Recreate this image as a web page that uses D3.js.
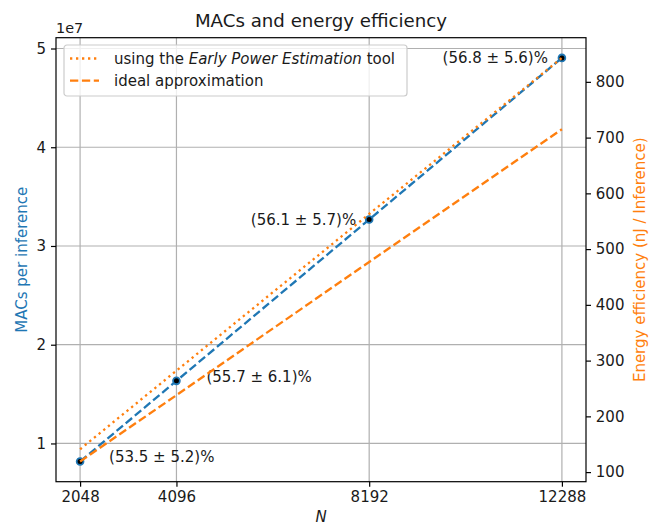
<!DOCTYPE html>
<html>
<head>
<meta charset="utf-8">
<script src="https://cdn.jsdelivr.net/npm/d3@7"></script>
<style>
  body { margin: 0; background: #fff; }
  svg { font-family: "DejaVu Sans", sans-serif; }
</style>
</head>
<body>
<script>
// data
var nValues = [2048, 4096, 8192, 12288];
var macsPerInference = [8.17e6, 1.634e7, 3.268e7, 4.905e7];
var energyEPE = [141, 282, 563, 843];
var energyIdeal = [119, 238, 477, 715];
var percentLabels = ["(53.5 \u00b1 5.2)%", "(55.7 \u00b1 6.1)%", "(56.1 \u00b1 5.7)%", "(56.8 \u00b1 5.6)%"];
var macTicks = [1, 2, 3, 4, 5];

// layout
var W = 655, H = 527;
var margin = {top: 37.7, right: 69, bottom: 45.3, left: 56};
var width = W - margin.left - margin.right,
    height = H - margin.top - margin.bottom;

var blue = "#1f77b4", orange = "#ff7f0e";
var tickFont = "15px";
var dashed = "8.3,3.6", dotted = "2.3,3.7";

function padded(lo, hi) {
  var d = (hi - lo) * 0.05;
  return [lo - d, hi + d];
}

var x = d3.scaleLinear().domain(padded(d3.min(nValues), d3.max(nValues))).range([0, width]);
var yL = d3.scaleLinear()
  .domain(padded(d3.min(macsPerInference) / 1e7, d3.max(macsPerInference) / 1e7))
  .range([height, 0]);
var allEnergy = energyEPE.concat(energyIdeal);
var yR = d3.scaleLinear().domain(padded(d3.min(allEnergy), d3.max(allEnergy))).range([height, 0]);

var svg = d3.select("body").append("svg")
    .attr("width", W)
    .attr("height", H);

var g = svg.append("g")
    .attr("transform", "translate(" + margin.left + "," + margin.top + ")");

// grid
g.append("g").selectAll("line").data(nValues).enter().append("line")
  .attr("x1", function(d) { return x(d); })
  .attr("x2", function(d) { return x(d); })
  .attr("y1", 0).attr("y2", height)
  .attr("stroke", "#b0b0b0").attr("stroke-width", 1.2);
g.append("g").selectAll("line").data(macTicks).enter().append("line")
  .attr("x1", 0).attr("x2", width)
  .attr("y1", function(d) { return yL(d); })
  .attr("y2", function(d) { return yL(d); })
  .attr("stroke", "#b0b0b0").attr("stroke-width", 1.2);

// axes
function styleAxis(sel) {
  sel.select(".domain").remove();
  sel.selectAll(".tick line").attr("stroke", "#000").attr("stroke-width", 1.2);
  sel.selectAll(".tick text").attr("fill", "#1a1a1a").style("font-size", tickFont)
    .style("font-family", "DejaVu Sans");
}

g.append("g")
  .attr("transform", "translate(0," + height + ")")
  .call(d3.axisBottom(x).tickValues(nValues).tickFormat(d3.format("d")).tickSize(5).tickPadding(4.5))
  .call(styleAxis);

g.append("g")
  .call(d3.axisLeft(yL).tickValues(macTicks).tickFormat(d3.format("d")).tickSize(5).tickPadding(5))
  .call(styleAxis);

g.append("g")
  .attr("transform", "translate(" + width + ",0)")
  .call(d3.axisRight(yR).ticks(8).tickSize(5).tickPadding(4.8))
  .call(styleAxis);

// frame
g.append("rect")
  .attr("width", width).attr("height", height)
  .attr("fill", "none").attr("stroke", "#000").attr("stroke-width", 1.2);

// MACs line
var macLine = d3.line()
  .x(function(d, i) { return x(nValues[i]); })
  .y(function(d) { return yL(d / 1e7); });

g.append("path")
  .datum(macsPerInference)
  .attr("d", macLine)
  .attr("fill", "none").attr("stroke", blue).attr("stroke-width", 2.3)
  .attr("stroke-dasharray", dashed);

g.selectAll("circle.mac").data(macsPerInference).enter().append("circle")
  .attr("class", "mac")
  .attr("cx", function(d, i) { return x(nValues[i]); })
  .attr("cy", function(d) { return yL(d / 1e7); })
  .attr("r", 3.4)
  .attr("fill", "#000").attr("stroke", blue).attr("stroke-width", 1.8);

// percentage labels
var labelOffsets = [[29, -5, "start"], [30, -4, "start"], [-13, 0, "end"], [-14, 0, "end"]];
g.selectAll("text.pct").data(percentLabels).enter().append("text")
  .attr("class", "pct")
  .attr("x", function(d, i) { return x(nValues[i]) + labelOffsets[i][0]; })
  .attr("y", function(d, i) { return yL(macsPerInference[i] / 1e7) + labelOffsets[i][1]; })
  .attr("dy", "0.36em")
  .attr("text-anchor", function(d, i) { return labelOffsets[i][2]; })
  .style("font-size", tickFont).attr("fill", "#1a1a1a")
  .text(function(d) { return d; });

// energy lines
var energyLine = d3.line()
  .x(function(d, i) { return x(nValues[i]); })
  .y(function(d) { return yR(d); });

g.append("path")
  .datum(energyEPE)
  .attr("d", energyLine)
  .attr("fill", "none").attr("stroke", orange).attr("stroke-width", 2.3)
  .attr("stroke-dasharray", dotted);

g.append("path")
  .datum(energyIdeal)
  .attr("d", energyLine)
  .attr("fill", "none").attr("stroke", orange).attr("stroke-width", 2.3)
  .attr("stroke-dasharray", dashed);

// legend
var leg = svg.append("g").attr("transform", "translate(64,45)");
leg.append("rect")
  .attr("width", 343).attr("height", 51).attr("rx", 3)
  .attr("fill", "#fff").attr("fill-opacity", 0.8)
  .attr("stroke", "#cccccc").attr("stroke-width", 1.2);
leg.append("line").attr("x1", 6).attr("x2", 35).attr("y1", 13.5).attr("y2", 13.5)
  .attr("stroke", orange).attr("stroke-width", 2.3).attr("stroke-dasharray", dotted);
leg.append("line").attr("x1", 6).attr("x2", 35).attr("y1", 35.7).attr("y2", 35.7)
  .attr("stroke", orange).attr("stroke-width", 2.3).attr("stroke-dasharray", dashed);
var t1 = leg.append("text").attr("x", 50).attr("y", 13.5).attr("dy", "0.36em")
  .style("font-size", tickFont).attr("fill", "#1a1a1a");
t1.append("tspan").text("using the ");
t1.append("tspan").style("font-style", "italic").text("Early Power Estimation");
t1.append("tspan").text(" tool");
leg.append("text").attr("x", 50).attr("y", 35.7).attr("dy", "0.36em")
  .style("font-size", tickFont).attr("fill", "#1a1a1a")
  .text("ideal approximation");

// titles and labels
svg.append("text")
  .attr("x", margin.left + width / 2).attr("y", 27)
  .attr("text-anchor", "middle")
  .style("font-size", "18.2px").attr("fill", "#1a1a1a")
  .text("MACs and energy efficiency");

svg.append("text")
  .attr("x", 56).attr("y", 33)
  .style("font-size", "14.4px").attr("fill", "#1a1a1a")
  .text("1e7");

svg.append("text")
  .attr("x", margin.left + width / 2).attr("y", 522)
  .attr("text-anchor", "middle")
  .style("font-size", tickFont).style("font-style", "italic").attr("fill", "#1a1a1a")
  .text("N");

svg.append("text")
  .attr("transform", "translate(26.5," + (margin.top + height / 2) + ") rotate(-90)")
  .attr("text-anchor", "middle")
  .style("font-size", tickFont).attr("fill", blue)
  .text("MACs per inference");

svg.append("text")
  .attr("transform", "translate(644.5," + (margin.top + height / 2) + ") rotate(-90)")
  .attr("text-anchor", "middle")
  .style("font-size", tickFont).attr("fill", orange)
  .text("Energy efficiency (nJ / Inference)");
</script>
</body>
</html>
